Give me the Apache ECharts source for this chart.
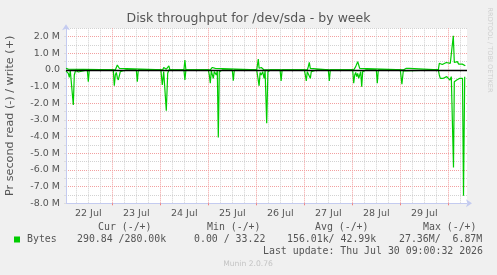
<!DOCTYPE html>
<html><head><meta charset="utf-8">
<script src="https://cdn.jsdelivr.net/npm/echarts@6/dist/echarts.min.js"></script>
<style>html,body{margin:0;padding:0;background:#f0f0f0}#c{width:497px;height:275px}</style>
</head><body><div id="c"></div><script>
// ---- data (x = hours since 22 Jul 00:00, y = millions of bytes per second) ----
const chartTitle = 'Disk throughput for /dev/sda - by week';
const yAxisName = 'Pr second read (-) / write (+)';
const dayLabels = ['22 Jul','23 Jul','24 Jul','25 Jul','26 Jul','27 Jul','28 Jul','29 Jul'];
const dayLabelHours = [12,36,60,84,108,132,156,180];
const dayLineHours = [24,48,72,96,120,144,168,192];
const sixHourLineHours = [6,12,18,30,36,42,54,60,66,78,84,90,102,108,114,126,132,138,150,156,162,174,180,186,198];
const yTicks = [-8,-7,-6,-5,-4,-3,-2,-1,0,1,2];
const seriesName = 'Bytes';
const readPoints = [
[0.85,-0.05],[1.5,0],[2,-0.2],[2.5,-0.45],[3,-0.05],[3.7,-0.1],[4.5,-2.1],[5,-0.3],[5.7,0],
[6.5,0],[7,-0.12],[7.5,0],
[11.5,0],[12,-0.7],[12.5,0],
[24.5,0],[25,-0.95],[25.5,-0.3],[26,-0.15],[26.5,-0.45],[27,-0.6],[27.5,-0.35],[28,-0.1],[28.5,0],
[30.7,0],[31.2,-0.1],[31.7,0],
[36,0],[36.5,-0.7],[37,0],
[48.3,0],[49,-0.9],[49.7,-0.1],[50.3,-0.05],[51,-2.45],[51.7,-0.2],[52.3,0],
[54.5,0],[55,-0.1],[55.5,0],
[59.8,0],[60.3,-0.6],[60.8,0],
[72,0],[72.5,-0.3],[73,-0.8],[73.5,-0.05],[74,-0.15],[74.5,-0.5],[75,-0.1],[75.5,-0.2],[76,-0.3],[76.5,-0.05],[77,-4.05],[77.5,-0.1],[78,0],[78.5,-0.1],[79,0],
[84,0],[84.5,-0.65],[85,0],
[96.2,0],[97,-0.1],[97.4,-0.95],[97.9,-0.15],[98.5,-0.3],[99.2,-0.1],[99.9,-0.5],[100.4,-0.05],[101.2,-3.2],[101.8,-0.1],[102.4,-0.15],[103,0],
[107.9,0],[108.4,-0.66],[108.9,0],
[120,0],[120.5,-0.3],[121,-0.66],[121.5,-0.1],[122,-0.2],[122.5,-0.1],[123,-0.5],[123.5,-0.1],[124,0],
[126.2,0],[126.7,-0.1],[127.2,0],
[132,0],[132.5,-0.66],[133,0],
[144.2,0],[144.7,-0.8],[145.2,-0.3],[145.7,-0.15],[146.2,-0.4],[146.7,-0.2],[147.2,-0.5],[147.7,-0.3],[148.2,-0.1],[148.7,-1.0],[149.2,-0.1],[149.7,0],
[150.7,0],[151.2,-0.1],[151.7,0],
[156,0],[156.5,-0.8],[157,0],
[168,0],[168.8,-0.85],[169.5,-0.05],[170,0],
[187,0],[187.5,-0.3],[188,-0.5],[188.7,-0.55],[189.5,-0.5],[190.3,-0.6],[191.2,-0.4],[192,-0.5],[192.8,-0.6],[193.5,-0.4],[194.1,-0.5],[194.6,-5.85],[195,-0.7],[195.5,-0.75],[196.2,-0.6],[197,-0.65],[197.8,-0.5],[198.5,-0.6],[199.1,-0.5],[199.6,-7.55],[200.2,-0.4]
];
const writePoints = [
[0.85,0.1],[1.5,0.15],[2,0.05],[2.5,0],
[25.5,0],[26,0.15],[26.5,0.3],[27,0.35],[27.5,0.1],[28,0],
[49.2,0],[49.7,0.15],[50.3,0.2],[51,0.05],[51.7,0.1],[52.3,0.25],[52.8,0],
[59.8,0],[60.3,0.6],[60.8,0],
[73,0],[73.5,0.05],[74,0.15],[74.5,0.05],[75,0.2],[75.5,0.1],[76,0],
[96.2,0],[96.6,0.1],[97,0.65],[97.4,0.1],[97.9,0.2],[98.5,0.15],[99.2,0.15],[99.9,0],
[121.5,0],[122,0.2],[122.5,0.45],[123,0.1],[123.5,0.2],[124,0],
[132,0],[132.5,0.1],[133,0],
[144.7,0],[145.2,0.05],[145.7,0.2],[146.2,0.35],[146.7,0.5],[147.2,0.3],[147.7,0.1],[148.2,0],
[169.5,0],[170,0.1],[171,0.1],[172,0.15],[172.5,0.1],[173,0],
[187,0],[187.5,0.4],[188.2,0.35],[189,0.33],[190,0.4],[191,0.45],[192,0.35],[193,0.4],[194,0.45],[194.5,2.05],[195,0.45],[195.7,0.35],[196.5,0.5],[197.2,0.35],[198,0.4],[199,0.35],[199.8,0.3],[200.5,0.25]
];
const legendHeaders = ['Cur (-/+)','Min (-/+)','Avg (-/+)','Max (-/+)'];
const legendValues = ['290.84 /280.00k','0.00 / 33.22','156.01k/ 42.99k','27.36M/  6.87M'];
const lastUpdate = 'Last update: Thu Jul 30 09:00:32 2026';
const footer = 'Munin 2.0.76';
const sideText = 'RRDTOOL / TOBI OETIKER';

// ---- chart ----
const GREEN = '#00cc00';
const AXIS = '#c4cbf0';
const MONO = '"DejaVu Sans Mono", monospace';
const SANS = '"DejaVu Sans", sans-serif';
const chart = echarts.init(document.getElementById('c'), null, {renderer: 'canvas'});
const hdrX = [98, 207, 315, 423];
const valX = [77, 194, 287, 399];
const graphics = [];
legendHeaders.forEach((t, i) => graphics.push({type: 'text', x: hdrX[i], y: 227.3,
  style: {text: t, font: '9.9px ' + MONO, fill: '#555', verticalAlign: 'middle'}}));
graphics.push({type: 'rect', shape: {x: 14, y: 236.5, width: 6, height: 6}, style: {fill: GREEN}});
graphics.push({type: 'text', x: 27, y: 239.5, style: {text: seriesName, font: '9.9px ' + MONO, fill: '#555', verticalAlign: 'middle'}});
legendValues.forEach((t, i) => graphics.push({type: 'text', x: valX[i], y: 239.5,
  style: {text: t, font: '9.9px ' + MONO, fill: '#555', verticalAlign: 'middle'}}));
graphics.push({type: 'text', x: 483, y: 251.7, style: {text: lastUpdate, font: '9.9px ' + MONO, fill: '#555', align: 'right', verticalAlign: 'middle'}});
graphics.push({type: 'text', x: 248, y: 264, style: {text: footer, font: '7.6px ' + SANS, fill: '#c4c4c4', align: 'center', verticalAlign: 'middle'}});
graphics.push({type: 'text', x: 490, y: 50, rotation: -Math.PI / 2,
  style: {text: sideText, font: '6.6px ' + SANS, fill: '#cfcfcf', align: 'center', verticalAlign: 'middle'}});

const option = {
  backgroundColor: '#f0f0f0',
  animation: false,
  title: {text: chartTitle, left: 'center', top: 12, padding: 0,
    textStyle: {fontSize: 12.5, fontWeight: 'normal', color: '#555', fontFamily: SANS}},
  grid: {left: 66, top: 28.3, width: 401, height: 175, backgroundColor: '#fff', show: true, borderWidth: 0,
    containLabel: false, outerBoundsMode: 'none'},
  xAxis: [
    {type: 'value', min: 0.85, max: 201.35, position: 'bottom',
      axisLine: {show: true, onZero: false, lineStyle: {color: AXIS, width: 1}, symbol: ['none', 'arrow'], symbolSize: [6, 6], symbolOffset: [0, 5]},
      axisTick: {show: false}, splitLine: {show: false},
      axisLabel: {show: true, customValues: dayLabelHours, margin: 5, fontSize: 9.5, color: '#555', fontFamily: SANS,
        formatter: v => dayLabels[dayLabelHours.indexOf(v)] || ''}},
    {type: 'value', min: 0.85, max: 201.35, position: 'bottom',
      axisLine: {show: false}, axisLabel: {show: false},
      axisTick: {show: true, customValues: sixHourLineHours, length: 2, lineStyle: {color: '#bbb'}},
      splitLine: {show: true, lineStyle: {color: '#d2d2d2', width: 1, type: [1, 1]}}},
    {type: 'value', min: 0.85, max: 201.35, position: 'bottom',
      axisLine: {show: false}, axisLabel: {show: false},
      axisTick: {show: true, customValues: dayLineHours, length: 2, lineStyle: {color: '#f08080'}},
      splitLine: {show: true, lineStyle: {color: '#f2a0a0', width: 1, type: [1, 1]}}}
  ],
  yAxis: {
    type: 'value', min: -8, max: 2.5, interval: 0.5,
    name: yAxisName, nameLocation: 'middle', nameRotate: 90, nameGap: 50,
    nameTextStyle: {fontSize: 11.2, color: '#555', fontFamily: SANS},
    axisLine: {show: true, onZero: false, lineStyle: {color: AXIS, width: 1}, symbol: ['none', 'arrow'], symbolSize: [6, 6], symbolOffset: [0, 4]},
    axisTick: {show: true, length: 2, lineStyle: {color: '#ddd'}},
    axisLabel: {showMaxLabel: false, margin: 6, fontSize: 9.5, color: '#555', fontFamily: SANS,
      formatter: v => yTicks.indexOf(v) < 0 ? '' : (v === 0 ? '0.0' : v.toFixed(1) + ' M')},
    splitLine: {show: true, lineStyle: {color: ['#f2a0a0', '#d2d2d2'], width: 1, type: [1, 1]}}
  },
  series: [
    {name: seriesName, type: 'line', xAxisIndex: 0, data: readPoints, showSymbol: false, symbol: 'none',
      lineStyle: {color: GREEN, width: 1.2}, itemStyle: {color: GREEN}, z: 3},
    {name: seriesName, type: 'line', xAxisIndex: 0, data: writePoints, showSymbol: false, symbol: 'none',
      lineStyle: {color: GREEN, width: 1.2}, itemStyle: {color: GREEN}, z: 3,
      markLine: {silent: true, symbol: 'none', z: 6, label: {show: false}, animation: false,
        lineStyle: {color: '#000', width: 1.3, type: 'solid'}, data: [{yAxis: 0}]}}
  ],
  graphic: graphics
};
chart.setOption(option);
</script></body></html>
